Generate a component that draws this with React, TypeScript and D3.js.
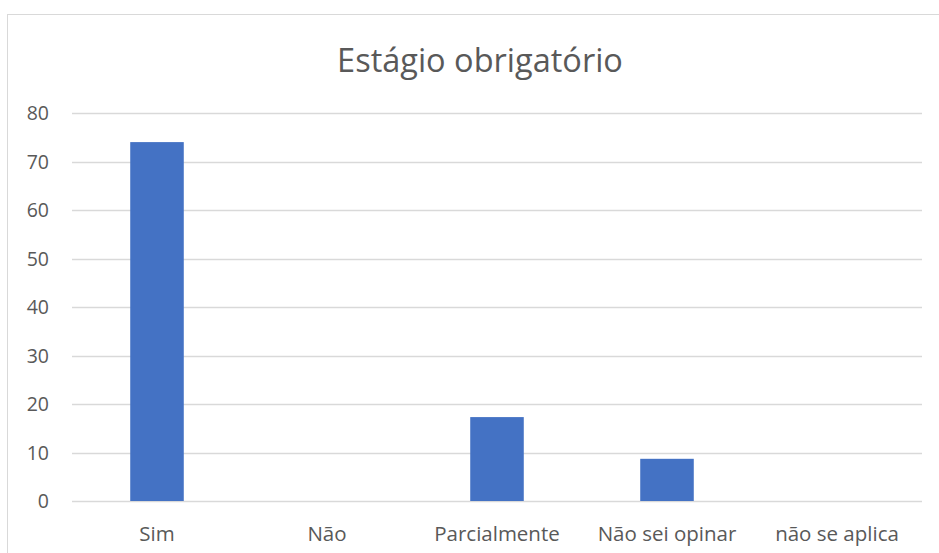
import { useRef, useEffect } from 'react'
import * as d3 from 'd3'

const categories = ['Sim', 'Não', 'Parcialmente', 'Não sei opinar', 'não se aplica']
const values = [74, 0, 17.3, 8.7, 0]
const yTicks = [0, 10, 20, 30, 40, 50, 60, 70, 80]
const title = 'Estágio obrigatório'

const App = () => {
	const svgRef = useRef<SVGSVGElement | null>(null)

	useEffect(() => {
		if (!svgRef.current) return

		const width = 939
		const height = 553
		const margin = { top: 113, right: 17, bottom: 52, left: 72 }
		const font = "'Open Sans', 'Liberation Sans', sans-serif"
		const textColor = '#595959'

		d3.select(svgRef.current).selectAll('*').remove()

		const svg = d3
			.select(svgRef.current)
			.attr('width', width)
			.attr('height', height)
			.style('font-family', font)

		svg
			.append('rect')
			.attr('x', 7.5)
			.attr('y', 14.5)
			.attr('width', 940)
			.attr('height', 560)
			.attr('fill', '#fff')
			.attr('stroke', '#d9d9d9')

		const x = d3
			.scaleBand()
			.domain(categories)
			.range([margin.left, width - margin.right])
			.paddingInner(0.685)
			.paddingOuter(0.3425)

		const y = d3
			.scaleLinear()
			.domain([0, 80])
			.range([height - margin.bottom, margin.top])

		// grid
		svg
			.append('g')
			.selectAll('line')
			.data(yTicks)
			.enter()
			.append('line')
			.attr('x1', margin.left)
			.attr('x2', width - margin.right)
			.attr('y1', (d) => Math.round(y(d)) + 0.5)
			.attr('y2', (d) => Math.round(y(d)) + 0.5)
			.attr('stroke', '#d9d9d9')
			.attr('stroke-width', 1.3)

		// y labels
		svg
			.append('g')
			.selectAll('text')
			.data(yTicks)
			.enter()
			.append('text')
			.attr('x', 49)
			.attr('y', (d) => y(d))
			.attr('dy', '0.36em')
			.attr('text-anchor', 'end')
			.attr('fill', textColor)
			.attr('font-size', 19.5)
			.text((d) => d)

		// bars
		svg
			.append('g')
			.selectAll('rect')
			.data(values)
			.enter()
			.append('rect')
			.attr('x', (_, i) => x(categories[i])!)
			.attr('y', (d) => y(d))
			.attr('width', x.bandwidth())
			.attr('height', (d) => y(0) - y(d))
			.attr('fill', '#4472c4')

		// x labels
		svg
			.append('g')
			.selectAll('text')
			.data(categories)
			.enter()
			.append('text')
			.attr('x', (d) => x(d)! + x.bandwidth() / 2)
			.attr('y', 541)
			.attr('text-anchor', 'middle')
			.attr('fill', textColor)
			.attr('font-size', 20.5)
			.text((d) => d)

		svg
			.append('text')
			.attr('x', 480)
			.attr('y', 72)
			.attr('text-anchor', 'middle')
			.attr('fill', textColor)
			.attr('font-size', 32.5)
			.text(title)
	}, [])

	return (
		<div style={{ position: 'absolute', left: 0, top: 0 }}>
			<svg ref={svgRef}></svg>
		</div>
	)
}

export default App
